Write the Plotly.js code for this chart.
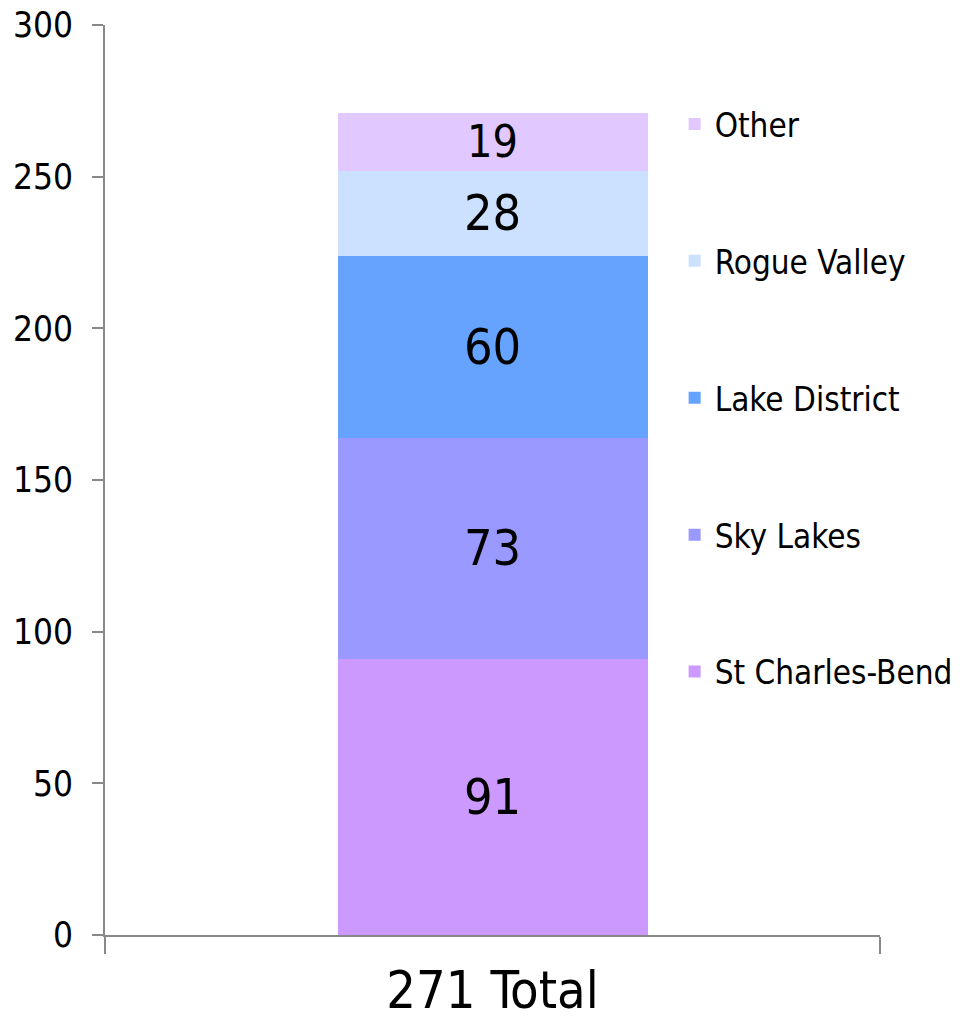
<!DOCTYPE html>
<html>
<head>
<meta charset="utf-8">
<script src="https://cdn.plot.ly/plotly-3.0.1.min.js"></script>
<style>html,body{margin:0;padding:0;background:#fff;}#chart{width:965px;height:1026px;}</style>
</head>
<body>
<div id="chart"></div>
<script>
const category = ['271 Total'];
const seriesNames = ['St Charles-Bend', 'Sky Lakes', 'Lake District', 'Rogue Valley', 'Other'];
const seriesValues = [91, 73, 60, 28, 19];
const seriesColors = ['#CC99FF', '#9999FF', '#66A3FF', '#CCE0FF', '#E1C9FF'];
const yTicks = [0, 50, 100, 150, 200, 250, 300];

const FONT = "'DejaVu Sans Condensed', 'DejaVu Sans', sans-serif";

const traces = seriesNames.map((name, i) => ({
  type: 'bar',
  name: name,
  x: category,
  y: [seriesValues[i]],
  width: 0.4,
  legendgroup: 'g' + i,
  legendrank: (seriesNames.length - i) * 10,
  marker: {color: seriesColors[i], line: {width: 0}},
  text: [String(seriesValues[i])],
  textposition: 'inside',
  insidetextanchor: 'middle',
  textangle: 0,
  textfont: {family: FONT, size: 50, color: '#000'},
  hoverinfo: 'name+y'
}));

const layout = {
  width: 965,
  height: 1026,
  margin: {l: 105, r: 85, t: 25, b: 91, autoexpand: false},
  paper_bgcolor: '#fff',
  plot_bgcolor: '#fff',
  barmode: 'stack',
  font: {family: FONT, color: '#000'},
  showlegend: true,
  legend: {
    x: 0.735, xanchor: 'left',
    y: 0.922, yanchor: 'top',
    traceorder: 'grouped',
    tracegroupgap: 91,
    font: {family: FONT, size: 33, color: '#000'},
    bgcolor: 'rgba(0,0,0,0)'
  },
  xaxis: {
    type: 'category',
    range: [-0.5, 0.5],
    showline: true, linecolor: '#888', linewidth: 2,
    ticks: 'outside', tickson: 'boundaries', ticklen: 17, tickcolor: '#888', tickwidth: 2,
    ticklabelstandoff: 9,
    tickfont: {family: FONT, size: 52, color: '#000'},
    showgrid: false, zeroline: false
  },
  yaxis: {
    range: [0, 300],
    tickvals: yTicks,
    ticktext: yTicks.map(String),
    showline: true, linecolor: '#888', linewidth: 2,
    ticks: 'outside', ticklen: 11, tickcolor: '#888', tickwidth: 2,
    ticklabelstandoff: 12,
    tickfont: {family: FONT, size: 35, color: '#000'},
    showgrid: false, zeroline: false
  }
};

Plotly.newPlot('chart', traces, layout, {displayModeBar: false, staticPlot: true});
</script>
</body>
</html>
